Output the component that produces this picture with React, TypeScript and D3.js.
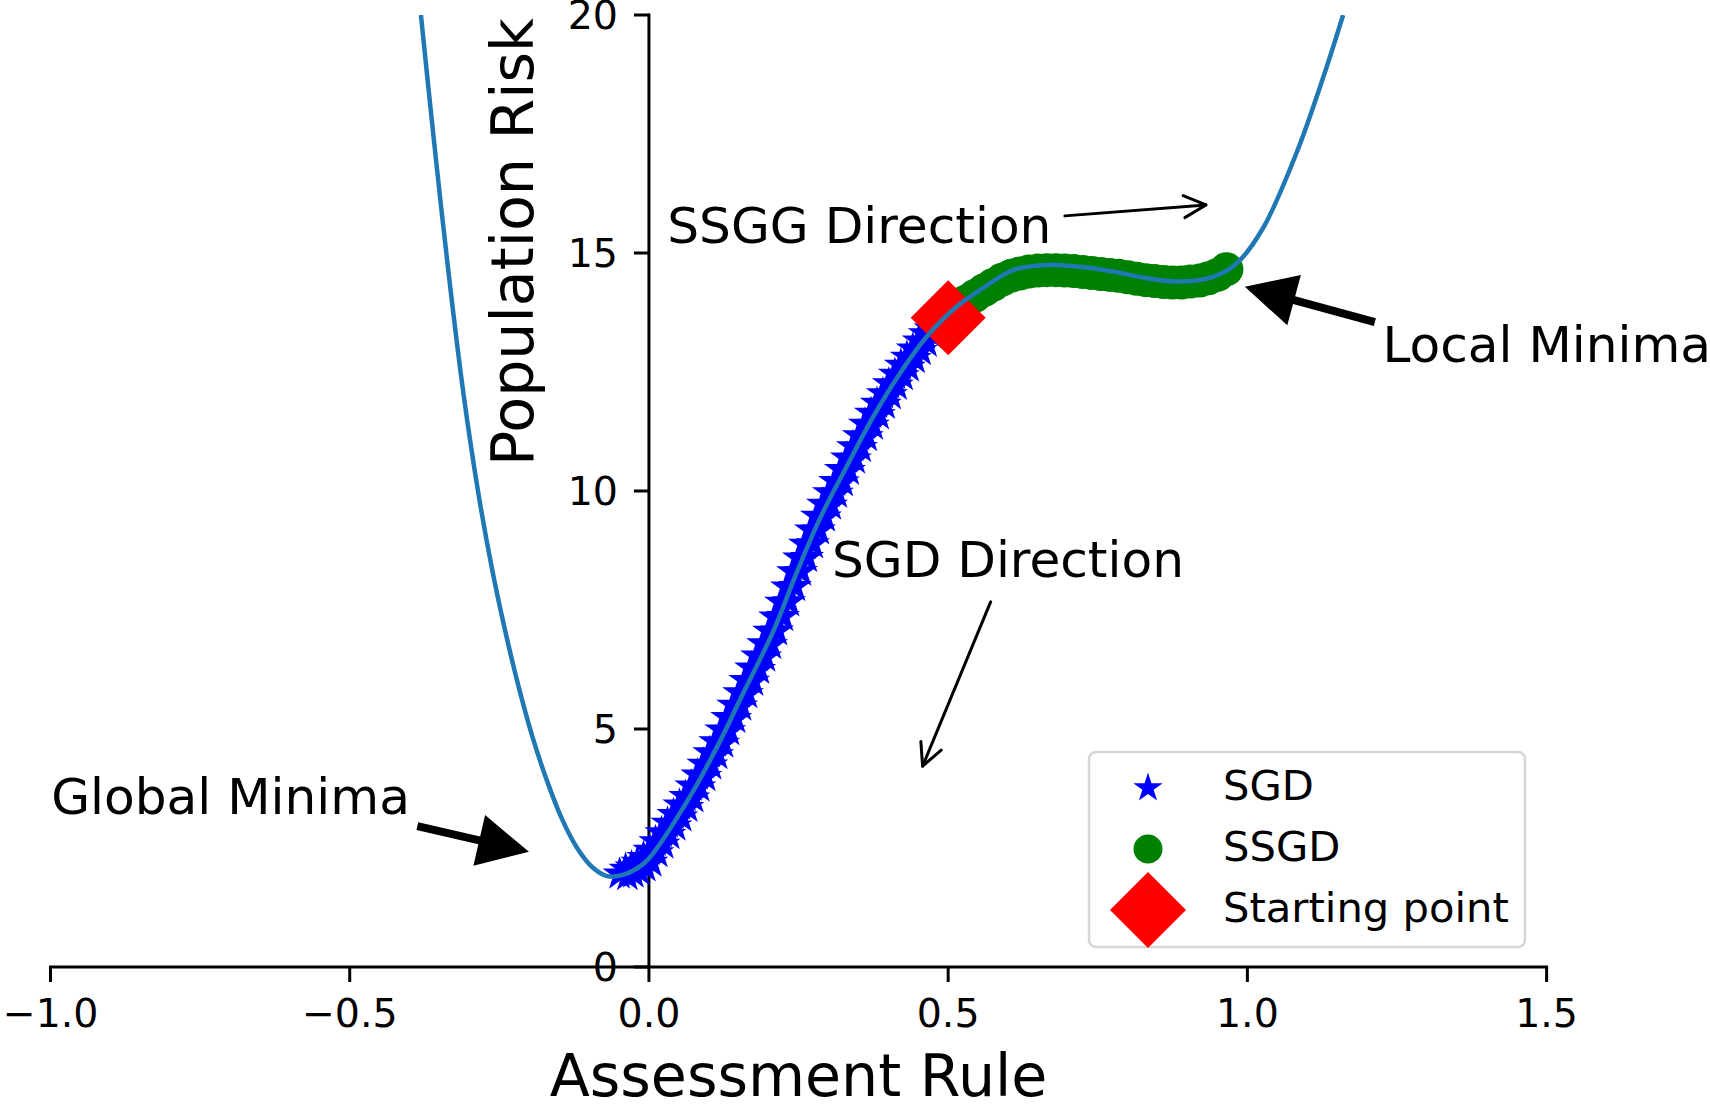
import React from 'react';
import * as d3 from 'd3';

// ---- data ----
const curveX = [-0.381, -0.36, -0.335, -0.31, -0.285, -0.262, -0.24, -0.218, -0.195, -0.17, -0.145, -0.12, -0.095, -0.07, -0.045, -0.02, 0.0, 0.0685, 0.119, 0.152, 0.2077, 0.2467, 0.2857, 0.3303, 0.3748, 0.4194, 0.464, 0.514, 0.553, 0.6087, 0.6645, 0.72, 0.7758, 0.8316, 0.8872, 0.943, 0.982, 1.026, 1.082, 1.127, 1.16];
const curveY = [20.0, 17.45, 14.6, 12.05, 9.95, 8.35, 7.05, 5.9, 4.85, 3.9, 3.1, 2.5, 2.1, 1.91, 1.93, 2.07, 2.28, 3.58, 4.75, 5.61, 7.05, 8.28, 9.42, 10.51, 11.56, 12.47, 13.24, 13.87, 14.22, 14.64, 14.75, 14.71, 14.61, 14.47, 14.4, 14.5, 14.78, 15.52, 17.1, 18.7, 20.0];

const sgdX = [
  -0.049, -0.036, -0.039, -0.026, -0.029, -0.016, -0.019, -0.006, -0.009, 0.004,
  0.001, 0.014, 0.011, 0.024, 0.021, 0.034, 0.031, 0.044, 0.041, 0.054,
  0.051, 0.064, 0.061, 0.074, 0.071, 0.084, 0.081, 0.094, 0.091, 0.104,
  0.101, 0.114, 0.111, 0.124, 0.121, 0.134, 0.131, 0.144, 0.141, 0.154,
  0.151, 0.164, 0.161, 0.174, 0.171, 0.184, 0.181, 0.194, 0.191, 0.204,
  0.201, 0.214, 0.211, 0.224, 0.221, 0.234, 0.231, 0.244, 0.241, 0.254,
  0.251, 0.264, 0.261, 0.274, 0.271, 0.284, 0.281, 0.294, 0.291, 0.304,
  0.301, 0.314, 0.311, 0.324, 0.321, 0.334, 0.331, 0.344, 0.341, 0.354,
  0.351, 0.364, 0.361, 0.374, 0.371, 0.384, 0.381, 0.394, 0.391, 0.404,
  0.401, 0.414, 0.411, 0.424, 0.421, 0.434, 0.431, 0.444, 0.441, 0.454,
  0.451, 0.464, 0.461, 0.474, 0.471,
];
const sgdY = [
  1.95, 1.92, 2.05, 1.97, 2.1, 2.02, 2.2, 2.1, 2.3, 2.2,
  2.45, 2.4, 2.63, 2.58, 2.82, 2.78, 3.02, 2.96, 3.2, 3.15,
  3.4, 3.35, 3.58, 3.55, 3.8, 3.78, 4.03, 4.0, 4.26, 4.24,
  4.5, 4.46, 4.73, 4.7, 4.98, 4.96, 5.24, 5.22, 5.5, 5.48,
  5.76, 5.74, 6.02, 6.0, 6.28, 6.25, 6.53, 6.51, 6.79, 6.77,
  7.05, 7.06, 7.35, 7.36, 7.66, 7.67, 7.98, 7.99, 8.3, 8.31,
  8.59, 8.6, 8.88, 8.89, 9.18, 9.18, 9.47, 9.45, 9.72, 9.7,
  9.96, 9.95, 10.2, 10.19, 10.45, 10.43, 10.69, 10.67, 10.93, 10.91,
  11.16, 11.14, 11.4, 11.38, 11.63, 11.6, 11.84, 11.82, 12.04, 12.02,
  12.25, 12.22, 12.45, 12.42, 12.64, 12.6, 12.81, 12.78, 12.98, 12.95,
  13.15, 13.12, 13.3, 13.28, 13.4,
];

const ssgdX = [0.53, 0.545, 0.56, 0.575, 0.59, 0.605, 0.62, 0.635, 0.65, 0.665, 0.68, 0.695, 0.71, 0.725, 0.74, 0.755, 0.77, 0.785, 0.8, 0.815, 0.83, 0.845, 0.86, 0.875, 0.89, 0.905, 0.92, 0.935, 0.95, 0.965];
const ssgdY = [13.98, 14.1, 14.22, 14.33, 14.44, 14.52, 14.57, 14.61, 14.63, 14.64, 14.64, 14.63, 14.62, 14.6, 14.58, 14.56, 14.54, 14.52, 14.49, 14.46, 14.43, 14.41, 14.39, 14.38, 14.38, 14.4, 14.42, 14.47, 14.54, 14.66];

const startX = [0.5];
const startY = [13.64];

const xTicks = [-1.0, -0.5, 0.0, 0.5, 1.0, 1.5];
const yTicks = [0, 5, 10, 15, 20];

const legendLabels = ['SGD', 'SSGD', 'Starting point'];

// annotations: text anchor (data), arrow tail -> tip (data)
const annotTexts = ['SSGG Direction', 'SGD Direction', 'Global Minima', 'Local Minima'];
const annotTextX = [0.0306, 0.3058, -0.9988, 1.2257];
const annotTextY = [15.21, 8.19, 3.21, 12.71];
const annotTailX = [0.695, 0.571, -0.387, 1.213];
const annotTailY = [15.78, 7.67, 2.96, 13.55];
const annotTipX = [0.9307, 0.4573, -0.2005, 0.9958];
const annotTipY = [16.01, 4.22, 2.42, 14.29];
const annotStyle = ['thin', 'thin', 'fat', 'fat'];

const W = 1710;
const H = 1110;
const FONT = 'DejaVu Sans';

export default function App() {
  const x = d3.scaleLinear().domain([-1, 1.5]).range([50.5, 1546.6]);
  const y = d3.scaleLinear().domain([0, 20]).range([967, 15]);

  const curvePts: [number, number][] = curveX.map((v, i) => [v, curveY[i]]);
  const line = d3
    .line<[number, number]>()
    .x((d) => x(d[0]))
    .y((d) => y(d[1]))
    .curve(d3.curveCatmullRom.alpha(0.5));

  const starR = 18;
  const starPath = d3.symbol(d3.symbolStar, (starR * starR) / 0.8908130915292852)();
  const legendStarR = 15.5;
  const legendStarPath = d3.symbol(d3.symbolStar, (legendStarR * legendStarR) / 0.8908130915292852)();
  const diamond = (h: number) => `M0,${-h}L${h},0L0,${h}L${-h},0Z`;

  const x0 = x(0);
  const y0 = y(0);

  const arrows = annotTexts.map((t, i) => {
    const tx = x(annotTailX[i]);
    const ty = y(annotTailY[i]);
    const px = x(annotTipX[i]);
    const py = y(annotTipY[i]);
    const dx = px - tx;
    const dy = py - ty;
    const L = Math.hypot(dx, dy);
    const ux = dx / L;
    const uy = dy / L;
    const nx = -uy;
    const ny = ux;
    if (annotStyle[i] === 'thin') {
      const hl = 22;
      const hw = 11;
      const bx = px - ux * hl;
      const by = py - uy * hl;
      return (
        <g key={'a' + i} fill="none" stroke="#000" strokeWidth={3} strokeLinecap="round" strokeLinejoin="round">
          <line x1={tx} y1={ty} x2={px} y2={py} />
          <polyline points={`${bx + nx * hw},${by + ny * hw} ${px},${py} ${bx - nx * hw},${by - ny * hw}`} />
        </g>
      );
    }
    const hl = 51;
    const hw = 26;
    const sw = 4;
    const bx = px - ux * hl;
    const by = py - uy * hl;
    const pts = [
      [tx + nx * sw, ty + ny * sw],
      [bx + nx * sw, by + ny * sw],
      [bx + nx * hw, by + ny * hw],
      [px, py],
      [bx - nx * hw, by - ny * hw],
      [bx - nx * sw, by - ny * sw],
      [tx - nx * sw, ty - ny * sw],
    ];
    return <polygon key={'a' + i} points={pts.map((p) => p.join(',')).join(' ')} fill="#000" />;
  });

  const legendX = 1089;
  const legendY = 752;
  const legendW = 436;
  const legendH = 195;
  const rowY = [788, 849, 910];

  return (
    <svg
      width={W}
      height={H}
      viewBox={`0 0 ${W} ${H}`}
      style={{ position: 'absolute', left: 0, top: 0, background: '#fff' }}
      fontFamily={FONT}
    >
      <rect x={0} y={0} width={W} height={H} fill="#fff" />
      <defs>
        <clipPath id="plotClip">
          <rect x={x(-1)} y={y(20)} width={x(1.5) - x(-1)} height={y(0) - y(20)} />
        </clipPath>
      </defs>

      {/* spines */}
      <line x1={x(-1)} x2={x(1.5)} y1={y0} y2={y0} stroke="#000" strokeWidth={3} strokeLinecap="square" />
      <line x1={x0} x2={x0} y1={y(0)} y2={y(20)} stroke="#000" strokeWidth={3} strokeLinecap="square" />

      {/* x ticks */}
      {xTicks.map((t) => (
        <g key={'xt' + t}>
          <line x1={x(t)} x2={x(t)} y1={y0} y2={y0 + 15} stroke="#000" strokeWidth={3} />
          <text x={x(t)} y={1027} fontSize={39.5} textAnchor="middle" fill="#000">
            {t < 0 ? '\u2212' + Math.abs(t).toFixed(1) : t.toFixed(1)}
          </text>
        </g>
      ))}

      {/* y ticks */}
      {yTicks.map((t) => (
        <g key={'yt' + t}>
          <line x1={x0 - 15} x2={x0} y1={y(t)} y2={y(t)} stroke="#000" strokeWidth={3} />
          <text x={x0 - 31} y={y(t) + 14} fontSize={39.5} textAnchor="end" fill="#000">
            {String(t)}
          </text>
        </g>
      ))}

      {/* axis labels */}
      <text x={(x(-1) + x(1.5)) / 2} y={1096} fontSize={58.6} textAnchor="middle" fill="#000">
        Assessment Rule
      </text>
      <text transform={`translate(533,242) rotate(-90)`} fontSize={58.6} textAnchor="middle" fill="#000">
        Population Risk
      </text>

      <g clipPath="url(#plotClip)">
        {/* SGD stars */}
        {sgdX.map((v, i) => (
          <path key={'s' + i} d={starPath} transform={`translate(${x(v)},${y(sgdY[i])})`} fill="#0000ff" />
        ))}
        {/* SSGD circles */}
        {ssgdX.map((v, i) => (
          <circle key={'c' + i} cx={x(v)} cy={y(ssgdY[i])} r={17} fill="#008000" />
        ))}
        {/* starting point */}
        {startX.map((v, i) => (
          <path key={'d' + i} d={diamond(37.5)} transform={`translate(${x(v)},${y(startY[i])})`} fill="#ff0000" />
        ))}
        {/* population risk curve */}
        <path d={line(curvePts) || ''} fill="none" stroke="#1f77b4" strokeWidth={4.5} />
      </g>

      {/* annotations */}
      {annotTexts.map((t, i) => (
        <text key={'t' + i} x={x(annotTextX[i])} y={y(annotTextY[i])} fontSize={50.2} fill="#000">
          {t}
        </text>
      ))}
      {arrows}

      {/* legend */}
      <rect
        x={legendX}
        y={legendY}
        width={legendW}
        height={legendH}
        rx={7}
        ry={7}
        fill="#fff"
        fillOpacity={0.8}
        stroke="#d6d6d6"
        strokeWidth={2.5}
      />
      <path d={legendStarPath} transform={`translate(1148,${rowY[0]})`} fill="#0000ff" />
      <circle cx={1148} cy={rowY[1]} r={14.5} fill="#008000" />
      <path d={diamond(38)} transform={`translate(1148,${rowY[2]})`} fill="#ff0000" />
      {legendLabels.map((l, i) => (
        <text key={'l' + i} x={1223} y={rowY[i] + 12} fontSize={41.7} fill="#000">
          {l}
        </text>
      ))}
    </svg>
  );
}
